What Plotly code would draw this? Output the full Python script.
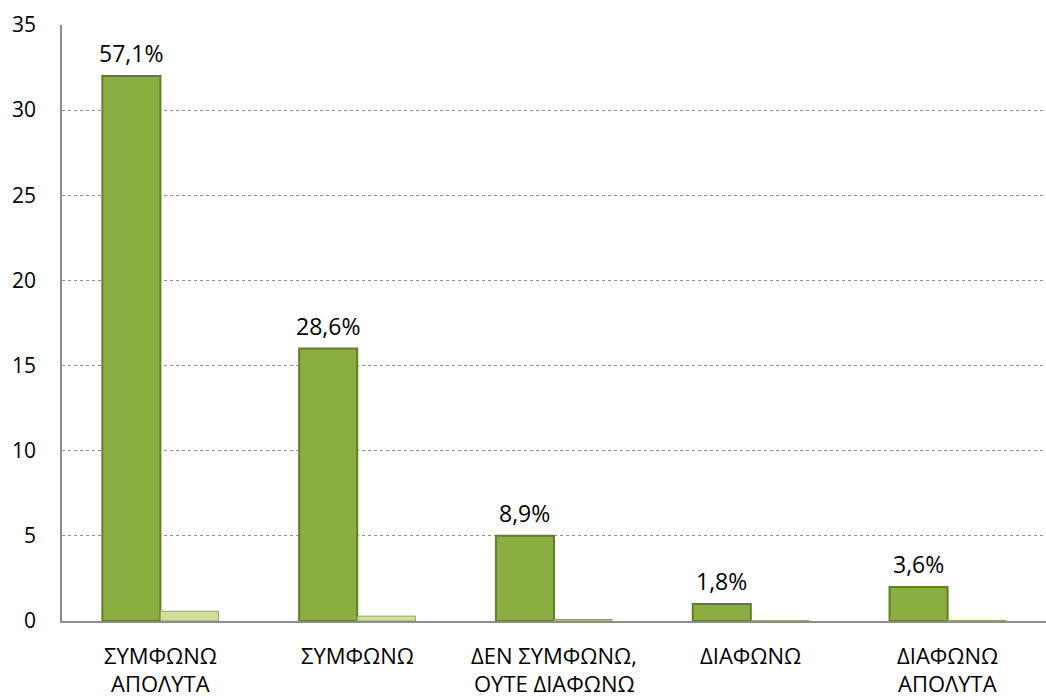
import plotly.graph_objects as go

categories = ["ΣΥΜΦΩΝΩ\nΑΠΟΛΥΤΑ", "ΣΥΜΦΩΝΩ", "ΔΕΝ ΣΥΜΦΩΝΩ,\nΟΥΤΕ ΔΙΑΦΩΝΩ",
              "ΔΙΑΦΩΝΩ", "ΔΙΑΦΩΝΩ\nΑΠΟΛΥΤΑ"]
counts = [32, 16, 5, 1, 2]
shares = [0.571, 0.286, 0.089, 0.018, 0.036]
y_ticks = [0, 5, 10, 15, 20, 25, 30, 35]

FONT = "Open Sans, Liberation Sans, sans-serif"
BARGAP = 0.41

share_text = [f"{s * 100:.1f}%".replace(".", ",") for s in shares]
x_idx = list(range(len(categories)))

fig = go.Figure()
fig.add_trace(go.Bar(
    x=x_idx, y=counts, name="Συχνότητα",
    marker=dict(color="#8bae40", line=dict(color="#617f27", width=2)),
))
fig.add_trace(go.Bar(
    x=x_idx, y=shares, name="Ποσοστό",
    marker=dict(color="#cfe09c", line=dict(color="#8c9f66", width=1)),
))

# percentage labels above the count bars (left bar of each group)
bar_offset = (1 - BARGAP) / 4
for i, (c, t) in enumerate(zip(counts, share_text)):
    fig.add_annotation(
        x=i - bar_offset, y=c, xref="x", yref="y", text=t, showarrow=False,
        yanchor="bottom", yshift=5,
        font=dict(family=FONT, size=23, color="#000000"),
    )

# category names, one annotation per line
for i, cat in enumerate(categories):
    for j, line in enumerate(cat.split("\n")):
        fig.add_annotation(
            x=i, y=0, xref="x", yref="y", text=line, showarrow=False,
            yanchor="middle", yshift=-34 - 28 * j,
            font=dict(family=FONT, size=22, color="#000000"),
        )

fig.update_layout(
    width=1046, height=700,
    margin=dict(l=62, r=0, t=25, b=79),
    paper_bgcolor="white", plot_bgcolor="white",
    barmode="group", bargap=BARGAP, bargroupgap=0,
    showlegend=False,
    font=dict(family=FONT, size=21, color="#000000"),
)
fig.update_yaxes(
    range=[0, 35], tickvals=y_ticks, ticks="", showgrid=True,
    gridcolor="#8f8f8f", griddash="dot", gridwidth=1,
    showline=True, linecolor="#8c8c8c", linewidth=1.5,
    zeroline=False, tickfont=dict(size=21), ticklabelstandoff=20,
)
fig.update_xaxes(
    type="linear", range=[-0.5, len(categories) - 0.5],
    showline=True, linecolor="#8c8c8c", linewidth=1.5, ticks="",
    showticklabels=False, showgrid=False, zeroline=False,
)

fig.write_html("out.html")
